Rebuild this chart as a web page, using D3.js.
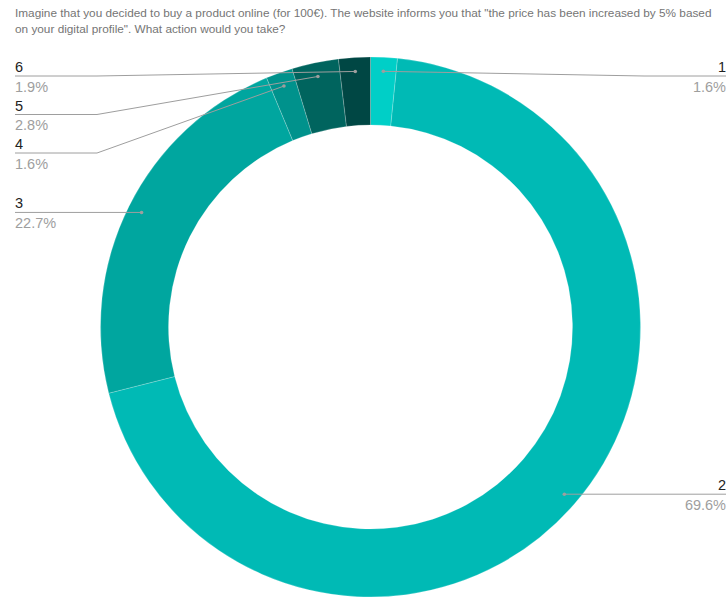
<!DOCTYPE html>
<html>
<head>
<meta charset="utf-8">
<script src="https://cdn.jsdelivr.net/npm/d3@7"></script>
<style>
  html, body { margin: 0; padding: 0; background: #fff; }
  svg { display: block; font-family: "Liberation Sans", Arial, sans-serif; }
</style>
</head>
<body>
<svg id="chart" width="727" height="598"></svg>
<script>
// Survey answers (option number) and share of respondents, in percent
const titleLines = [
  "Imagine that you decided to buy a product online (for 100\u20AC). The website informs you that \"the price has been increased by 5% based",
  "on your digital profile\". What action would you take?"
];
const categories = ["1", "2", "3", "4", "5", "6"];
const shares = [1.6, 69.6, 22.7, 1.6, 2.8, 1.9];
const colors = ["#00cfc7", "#00bab5", "#00a69f", "#00928c", "#00645e", "#004744"];

const W = 727, H = 598;
const cx = 370.5, cy = 327;
const outerR = 270, innerR = 202, dotR = 256;
const leftX = 15, rightX = 726, elbow = 82;
const labelTop = 76, labelGap = 38.5;

const svg = d3.select("#chart");

// Title
const title = svg.append("text")
  .attr("x", 15).attr("y", 17)
  .attr("fill", "#757575")
  .style("font-size", "11.8px");
title.selectAll("tspan").data(titleLines).join("tspan")
  .attr("x", 15)
  .attr("dy", (d, i) => i === 0 ? 0 : 16)
  .text(d => d);

const data = categories.map((c, i) => ({ name: c, value: shares[i], color: colors[i] }));

const pie = d3.pie().value(d => d.value).sort(null);
const arcs = pie(data);
const arc = d3.arc().innerRadius(innerR).outerRadius(outerR);

const g = svg.append("g").attr("transform", `translate(${cx},${cy})`);
g.selectAll("path").data(arcs).join("path")
  .attr("d", arc)
  .attr("fill", d => d.data.color)
  .attr("stroke", "#ffffff")
  .attr("stroke-opacity", 0.35)
  .attr("stroke-width", 0.6);

// Anchor point of each leader line, on the ring near its outer edge
arcs.forEach(a => {
  const mid = (a.startAngle + a.endAngle) / 2;
  a.dx = cx + Math.sin(mid) * dotR;
  a.dy = cy - Math.cos(mid) * dotR;
  a.side = mid > Math.PI ? "left" : "right";
});

// Stack labels on each side so they never overlap
["left", "right"].forEach(side => {
  const list = arcs.filter(a => a.side === side).sort((a, b) => a.dy - b.dy);
  let prev = -Infinity;
  list.forEach(a => {
    let y = Math.max(a.dy, labelTop, prev + labelGap);
    a.ly = y;
    prev = y;
  });
});

const labels = svg.append("g");
arcs.forEach(a => {
  const left = a.side === "left";
  const x0 = left ? leftX : rightX;
  const xe = left ? leftX + elbow : rightX - elbow;
  let pts;
  if (Math.abs(a.ly - a.dy) < 0.5) {
    pts = [[x0, a.ly], [a.dx, a.dy]];
  } else {
    pts = [[x0, a.ly], [xe, a.ly], [a.dx, a.dy]];
  }
  labels.append("path")
    .attr("d", d3.line()(pts))
    .attr("fill", "none")
    .attr("stroke", "#9e9e9e")
    .attr("stroke-width", 1);
  labels.append("circle")
    .attr("cx", a.dx).attr("cy", a.dy).attr("r", 1.8)
    .attr("fill", "#9e9e9e");
  labels.append("text")
    .attr("x", x0).attr("y", a.ly - 4)
    .attr("text-anchor", left ? "start" : "end")
    .attr("fill", "#222222")
    .style("font-size", "14.5px")
    .text(a.data.name);
  labels.append("text")
    .attr("x", x0).attr("y", a.ly + 15.5)
    .attr("text-anchor", left ? "start" : "end")
    .attr("fill", "#9e9e9e")
    .style("font-size", "14.5px")
    .text(d3.format(".1f")(a.data.value) + "%");
});
</script>
</body>
</html>
